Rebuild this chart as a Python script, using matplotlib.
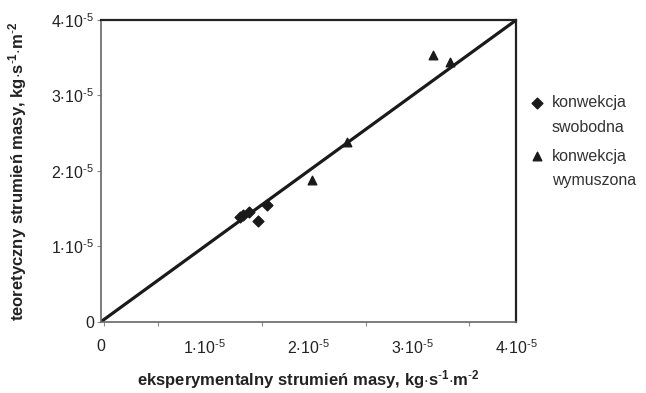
import matplotlib
matplotlib.use("Agg")
import matplotlib.pyplot as plt
from matplotlib.ticker import FixedLocator

plt.rcParams['font.family'] = ['Liberation Sans', 'DejaVu Sans']
plt.rcParams['mathtext.fontset'] = 'custom'
plt.rcParams['mathtext.rm'] = 'Liberation Sans'
plt.rcParams['mathtext.bf'] = 'Liberation Sans:bold'

# data (units of 1e-5 kg s^-1 m^-2)
free_x = [1.34, 1.37, 1.43, 1.60, 1.51]
free_y = [1.39, 1.42, 1.46, 1.55, 1.34]
forced_x = [2.03, 2.37, 3.20, 3.36]
forced_y = [1.88, 2.38, 3.54, 3.44]
ticks = [0, 1, 2, 3, 4]
tick_labels = ['0'] + [r'$\mathregular{%d{\cdot}10^{\text{-}5}}$' % i for i in range(1, 5)]
label_free = ['konwekcja', 'swobodna']
label_forced = ['konwekcja', 'wymuszona']

fig = plt.figure(figsize=(6.46, 3.93), dpi=100)
ax = fig.add_axes([0.156, 0.181, 0.643, 0.768])

ax.plot([0, 4], [0, 4], color='#1a1a1a', lw=2.3, zorder=2)
ax.scatter(free_x, free_y, marker='D', s=30, color='#1a1a1a', zorder=3)
ax.scatter(forced_x, forced_y, marker='^', s=38, color='#1a1a1a', zorder=3)

ax.set_xlim(0, 4)
ax.set_ylim(0, 4)

ax.set_xticks(ticks)
ax.set_xticklabels(tick_labels, fontsize=11.5, color='#222222')
ax.set_yticks(ticks)
ax.set_yticklabels(tick_labels, fontsize=11.5, color='#222222')
ax.xaxis.set_minor_locator(FixedLocator([0.03, 0.55, 1.55, 2.55, 3.55]))
ax.tick_params(axis='x', which='major', length=0, pad=12)
ax.tick_params(axis='x', which='minor', length=3, width=0.8, color='#888888', direction='out')
ax.tick_params(axis='y', which='major', length=3, width=0.8, color='#888888', pad=2)

for side in ['left', 'bottom']:
    ax.spines[side].set_color('#666666')
    ax.spines[side].set_linewidth(1.2)
for side in ['right', 'top']:
    ax.spines[side].set_color('#222222')
    ax.spines[side].set_linewidth(1.6)

ax.set_xlabel(r'eksperymentalny strumień masy, kg$\mathbf{{\cdot}s^{\text{-}1}{\cdot}m^{\text{-}2}}$',
              fontsize=12, fontweight='bold', color='#222222', labelpad=8)
ax.set_ylabel(r'teoretyczny strumień masy, kg$\mathbf{{\cdot}s^{\text{-}1}{\cdot}m^{\text{-}2}}$',
              fontsize=12, fontweight='bold', color='#222222', labelpad=16)

# legend (manual, marker aligned with first text line)
entries = [('D', 30, label_free, 0.738), ('^', 38, label_forced, 0.603)]
for mk, sz, lines, yf in entries:
    ax.scatter([0.832], [yf], marker=mk, s=sz, color='#1a1a1a',
               transform=fig.transFigure, clip_on=False)
    fig.text(0.854, yf, lines[0], fontsize=11.5, color='#333333', va='center', ha='left')
    fig.text(0.854, yf - 0.062, lines[1], fontsize=11.5, color='#333333', va='center', ha='left')

fig.savefig('out.png', dpi=100)
